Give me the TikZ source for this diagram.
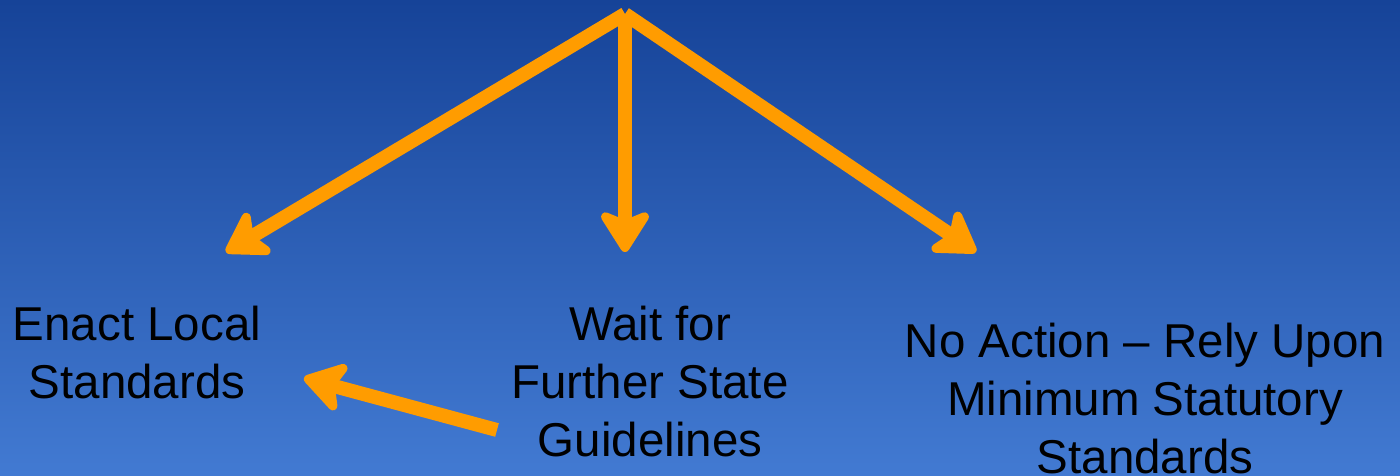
\documentclass[tikz,border=0pt]{standalone}
\usepackage{fontspec}
\setmainfont{Liberation Sans}
\usetikzlibrary{arrows.meta}
\definecolor{bgtop}{RGB}{22,67,152}
\definecolor{bgbot}{RGB}{66,122,210}
\definecolor{arr}{RGB}{255,156,0}
\begin{document}
\begin{tikzpicture}[x=1pt,y=-1pt,
  lbl/.style={align=center,font=\fontsize{47.5}{58}\selectfont,text=black,inner sep=0pt},
  bigarrow/.style={draw=arr,line width=14pt,-{Stealth[length=48pt,width=60pt,inset=12pt,round]}}]
\shade[top color=bgtop,bottom color=bgbot] (0,0) rectangle (1400,475);
\useasboundingbox (0,0) rectangle (1400,475);
\coordinate (top) at (625,14);
\coordinate (tl) at (226,252);
\coordinate (tm) at (625,252);
\coordinate (tr) at (976,252);
\node[lbl,anchor=north] (enact) at (137,306) {Enact Local\\Standards};
\node[lbl,anchor=north] (wait) at (650,306) {Wait for\\Further State\\Guidelines};
\node[lbl,anchor=north] (none) at (1145,323) {No Action -- Rely Upon\\Minimum Statutory\\Standards};
\coordinate (ws) at (497,430);
\coordinate (es) at (304,378);
\draw[bigarrow] (top) -- (tl);
\draw[bigarrow] (top) -- (tm);
\draw[bigarrow] (top) -- (tr);
\draw[bigarrow] (ws) -- (es);
\end{tikzpicture}
\end{document}
